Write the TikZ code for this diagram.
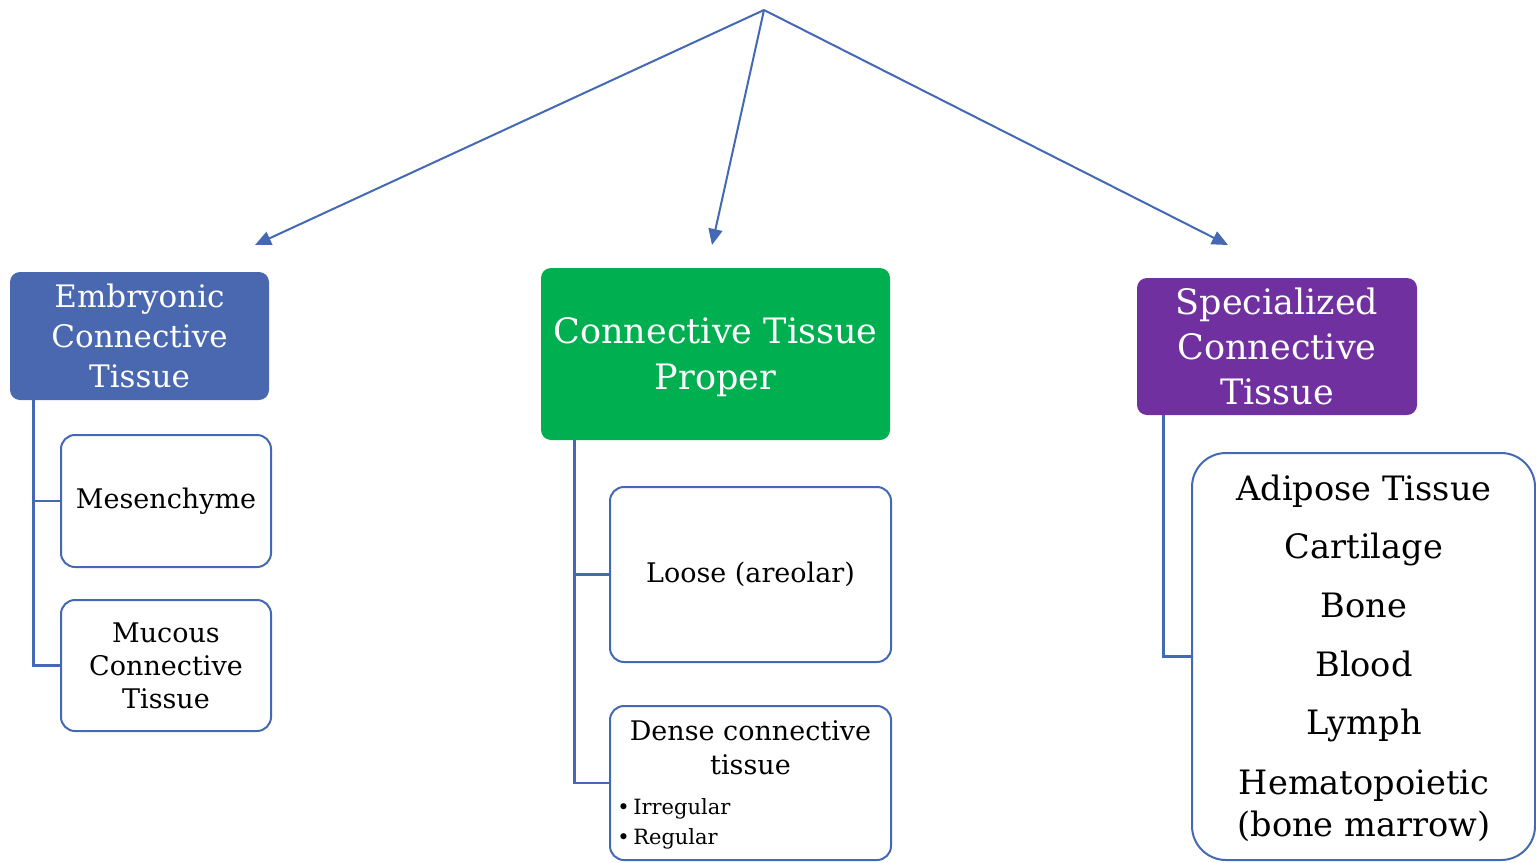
\documentclass[tikz,border=0pt]{standalone}
\usepackage{fontspec}
\setmainfont{DejaVu Serif}
\usetikzlibrary{arrows.meta}
\definecolor{lineblue}{HTML}{4469B4}
\definecolor{embblue}{HTML}{4A68B0}
\definecolor{cgreen}{HTML}{00B050}
\definecolor{cpurple}{HTML}{7030A0}
\tikzset{
  headbox/.style={rounded corners=5pt, inner sep=0pt, align=center, text=white},
  subbox/.style={draw=lineblue, line width=1pt, fill=white, rounded corners=7pt, inner sep=0pt, align=center},
  arr/.style={draw=lineblue, line width=1pt, -{Triangle[length=8pt,width=7pt]}},
  conn/.style={draw=lineblue, line width=1.2pt},
  listtext/.style={inner sep=0pt, anchor=base, font=\fontsize{16.8pt}{21pt}\selectfont},
}
\begin{document}
\begin{tikzpicture}[x=0.5pt,y=-0.5pt]
\useasboundingbox (0,0) rectangle (1536,862);
% header boxes
\node[headbox, fill=embblue, minimum width=129.5pt, minimum height=64pt,
  font=\fontsize{15.5pt}{20pt}\selectfont] (emb) at (139.5,336) {Embryonic\\Connective\\Tissue};
\node[headbox, fill=cgreen, minimum width=174.5pt, minimum height=86pt,
  font=\fontsize{17.5pt}{23pt}\selectfont, text depth=0pt] (ctp) at (715.5,354) {Connective Tissue\\Proper};
\node[headbox, fill=cpurple, minimum width=140pt, minimum height=68.5pt,
  font=\fontsize{17.5pt}{22.5pt}\selectfont] (spec) at (1277,346.5) {Specialized\\Connective\\Tissue};
% apex and arrows
\coordinate (apex) at (764,10);
\coordinate (t1) at (255,245);
\coordinate (t2) at (712,245);
\coordinate (t3) at (1228,245);
\draw[arr] (apex) -- (t1);
\draw[arr] (apex) -- (t2);
\draw[arr] (apex) -- (t3);
% sub boxes
\node[subbox, minimum width=105pt, minimum height=66pt, font=\fontsize{13.5pt}{16.5pt}\selectfont]
  (mes) at (166,501) {Mesenchyme};
\node[subbox, minimum width=105pt, minimum height=65.5pt, font=\fontsize{13.5pt}{16.5pt}\selectfont]
  (muc) at (166,665.5) {Mucous\\Connective\\Tissue};
\node[subbox, minimum width=140.5pt, minimum height=87.5pt, font=\fontsize{13.5pt}{16.5pt}\selectfont]
  (loose) at (750.5,574.5) {Loose (areolar)};
\node[subbox, minimum width=140.5pt, minimum height=77pt] (dense) at (750.5,783) {};
\node[anchor=north, inner sep=0pt, align=center, font=\fontsize{13.5pt}{17pt}\selectfont]
  (densetxt) at ([yshift=-7.5pt]dense.north) {Dense connective\\tissue};
\node[anchor=south west, inner sep=0pt, align=left, font=\fontsize{10.5pt}{15pt}\selectfont]
  (densebul) at ([xshift=4pt,yshift=5.5pt]dense.south west) {\textbullet\,Irregular\\\textbullet\,Regular};
\node[subbox, rounded corners=17pt, minimum width=171.5pt, minimum height=203.5pt] (list) at (1363.5,656.5) {};
\node[listtext] (l1) at (1364,500) {Adipose Tissue};
\node[listtext] (l2) at (1364,558) {Cartilage};
\node[listtext] (l3) at (1364,617) {Bone};
\node[listtext] (l4) at (1364,676) {Blood};
\node[listtext] (l5) at (1364,734) {Lymph};
\node[listtext] (l6) at (1364,794) {Hematopoietic};
\node[listtext] (l7) at (1364,836) {(bone marrow)};
% connectors
\draw[conn] ([xshift=12pt]emb.south west) |- (mes.west);
\draw[conn] ([xshift=12pt]emb.south west) |- (muc.west);
\draw[conn] ([xshift=17pt]ctp.south west) |- (loose.west);
\draw[conn] ([xshift=17pt]ctp.south west) |- (dense.west);
\draw[conn] ([xshift=13.5pt]spec.south west) |- (list.west);
\end{tikzpicture}
\end{document}
